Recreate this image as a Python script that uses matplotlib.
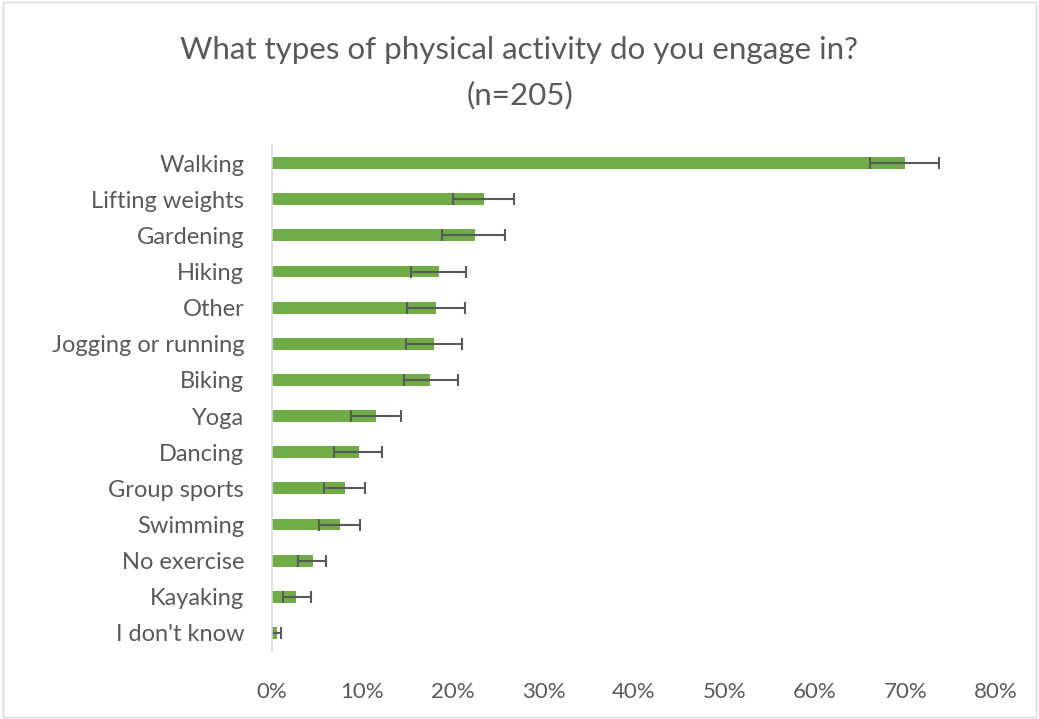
import matplotlib.pyplot as plt
import numpy as np

# data (percent)
activities = ['Walking', 'Lifting weights', 'Gardening', 'Hiking', 'Other',
              'Jogging or running', 'Biking', 'Yoga', 'Dancing', 'Group sports',
              'Swimming', 'No exercise', 'Kayaking', "I don't know"]
share = [69.9, 23.4, 22.4, 18.4, 18.1, 17.9, 17.5, 11.5, 9.6, 8.1, 7.5, 4.5, 2.7, 0.5]
err_low = [66.1, 20.0, 18.8, 15.4, 14.9, 14.8, 14.6, 8.7, 6.9, 5.8, 5.2, 2.9, 1.2, 0.0]
err_high = [73.7, 26.7, 25.8, 21.4, 21.3, 21.0, 20.6, 14.3, 12.2, 10.3, 9.7, 6.0, 4.3, 1.0]
xticks = [0, 10, 20, 30, 40, 50, 60, 70, 80]

plt.rcParams['font.family'] = ['Lato', 'DejaVu Sans']
grey = '#595959'

fig = plt.figure(figsize=(10.39, 7.19), dpi=100)
ax = fig.add_axes([272 / 1039, 1 - 651 / 719, (996 - 272) / 1039, (651 - 145) / 719])

y = np.arange(len(activities))
share_a = np.array(share)
xerr = [share_a - np.array(err_low), np.array(err_high) - share_a]
ax.barh(y, share, height=0.33, color='#70ad47')
ax.errorbar(share, y, xerr=xerr, fmt='none', ecolor=grey, elinewidth=1.5,
            capsize=4, capthick=1.5)

ax.set_ylim(len(activities) - 0.5, -0.5)
ax.set_xlim(0, 80)
ax.set_yticks(y)
ax.set_yticklabels(activities, fontsize=17, color=grey)
ax.set_xticks(xticks)
ax.set_xticklabels([f'{t}%' for t in xticks], fontsize=16, color=grey)
ax.tick_params(axis='y', length=0, pad=20)
ax.tick_params(axis='x', length=0, pad=22)
for s in ['top', 'right', 'bottom']:
    ax.spines[s].set_visible(False)
ax.spines['left'].set_color('#d9d9d9')
ax.spines['left'].set_linewidth(1.2)

fig.text(0.5, 1 - 50 / 719, 'What types of physical activity do you engage in?',
         ha='center', va='center', fontsize=22.5, color=grey)
fig.text(0.5, 1 - 95 / 719, '(n=205)', ha='center', va='center', fontsize=22.5, color=grey)

# chart border
fig.add_artist(plt.Rectangle((0.003, 0.003), 0.994, 0.994, transform=fig.transFigure,
                             fill=False, edgecolor='#d9d9d9', linewidth=1))

fig.savefig('out.png', dpi=100)
